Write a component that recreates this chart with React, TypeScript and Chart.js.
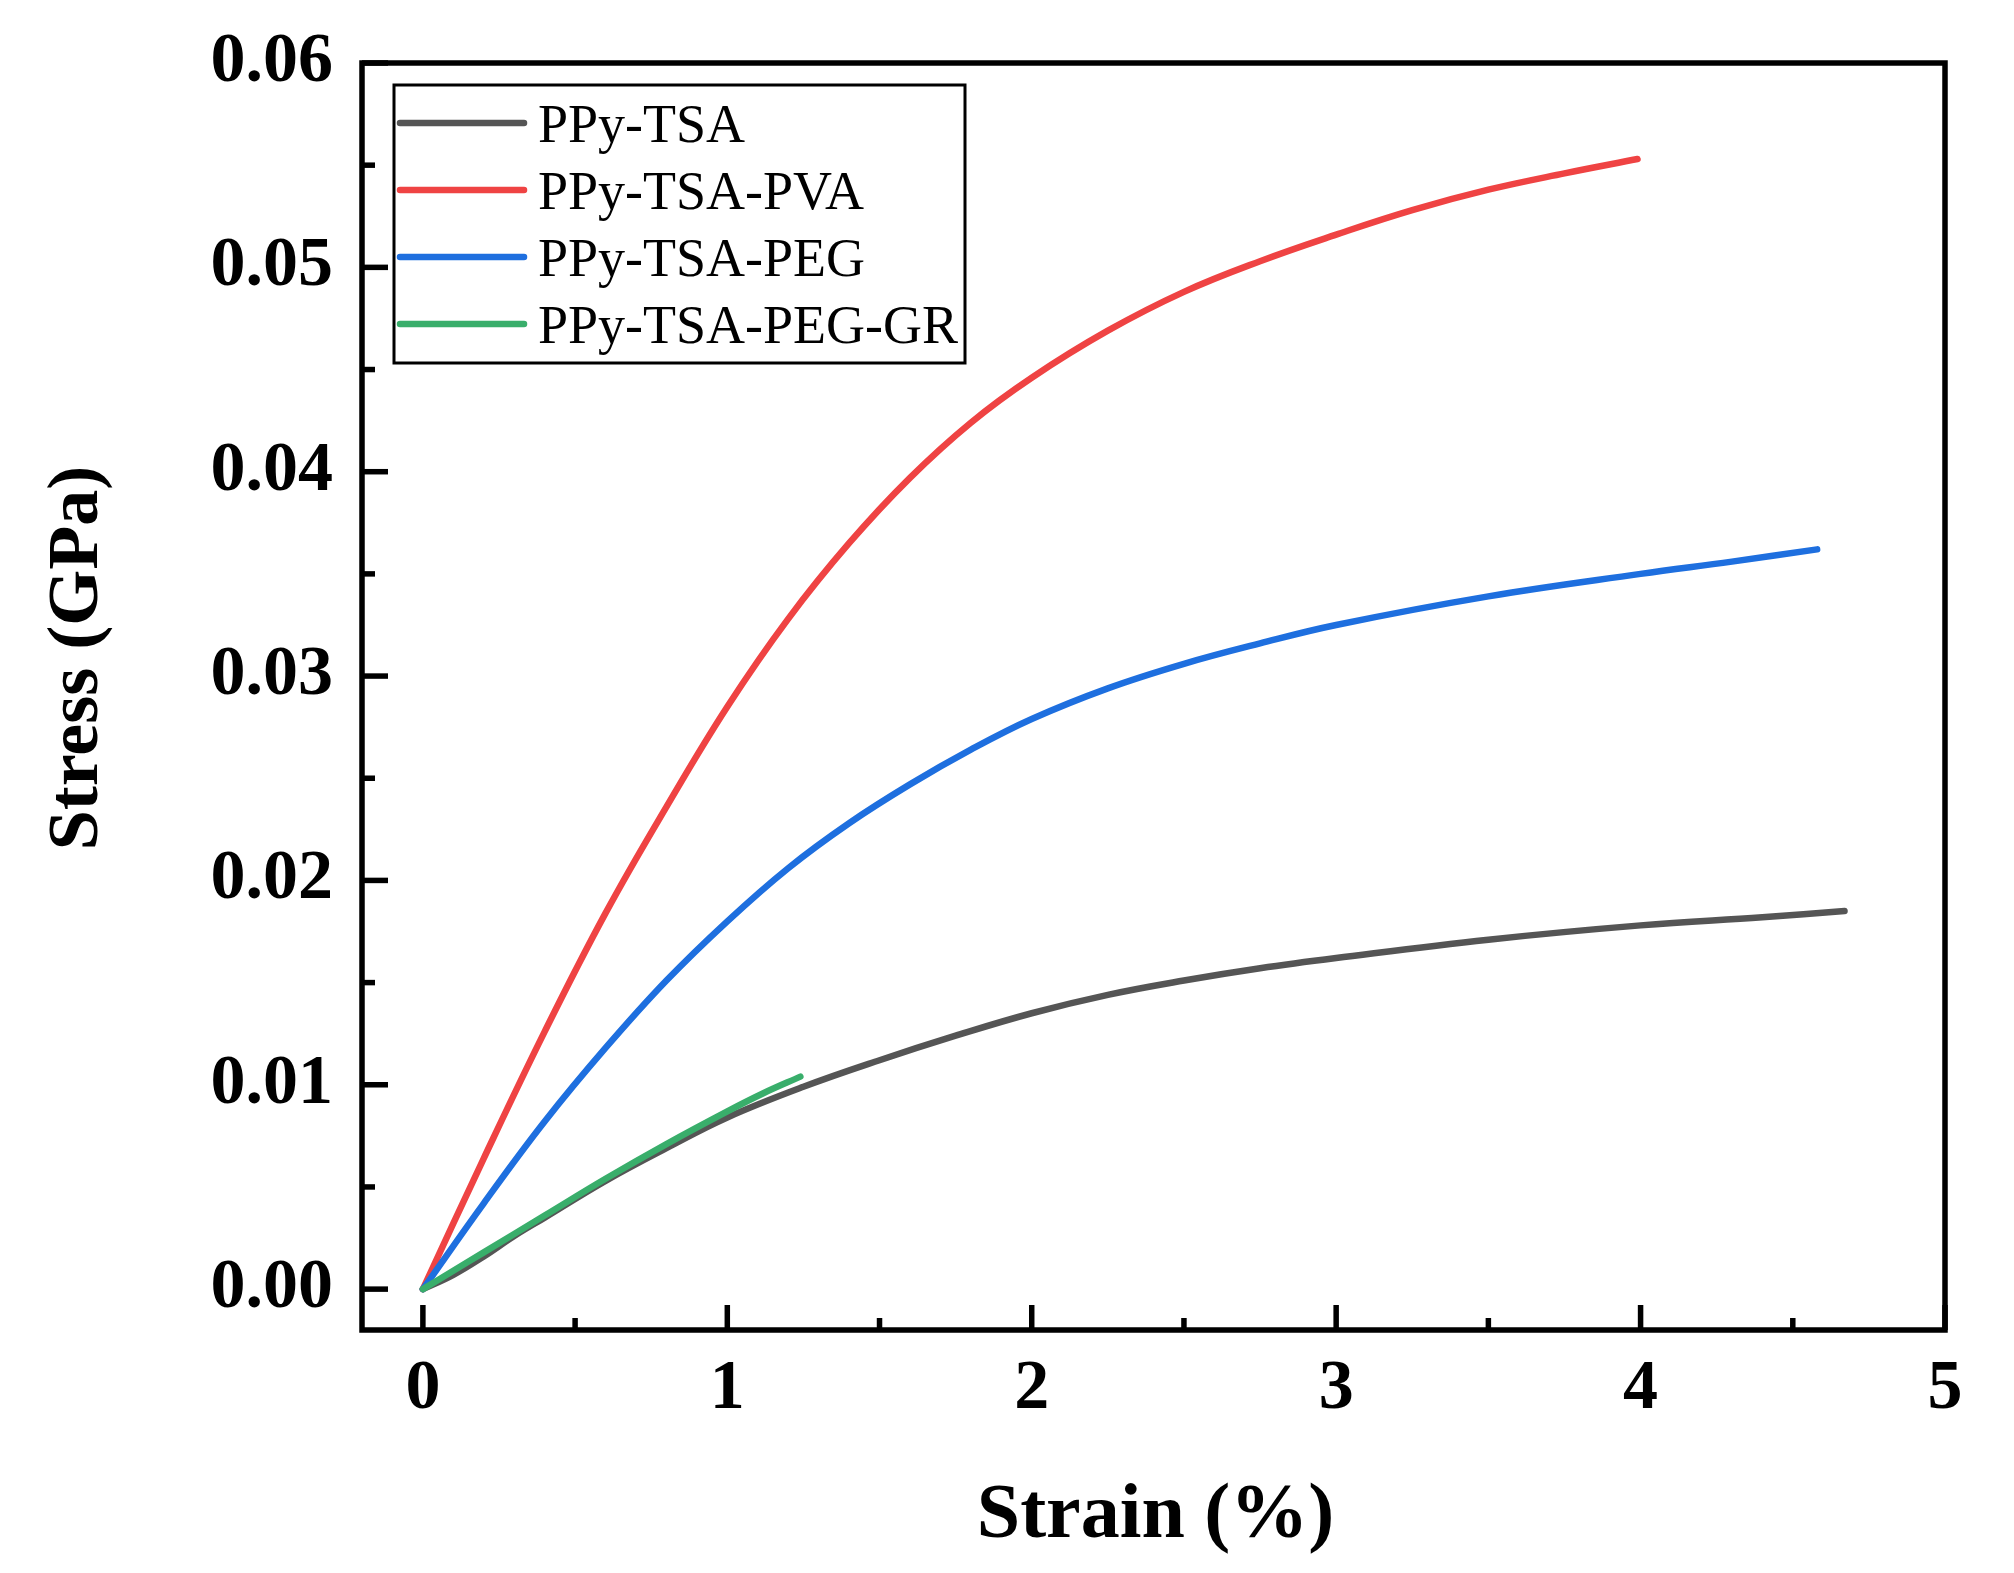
import { useEffect, useRef } from 'react'
import { Chart, registerables } from 'chart.js'
Chart.register(...registerables)

const seriesNames = ['PPy-TSA', 'PPy-TSA-PVA', 'PPy-TSA-PEG', 'PPy-TSA-PEG-GR']
const seriesColors = ['#555555', '#EF4343', '#1E6FDF', '#39AE6B']

// strain (%) / stress (GPa)
const tsaStrain = [0, 0.1, 0.2, 0.3, 0.4, 0.6, 0.8, 1.0, 1.25, 1.5, 1.75, 2.0, 2.25, 2.5, 2.75, 3.0, 3.5, 4.0, 4.4, 4.67]
const tsaStress = [0, 0.0007, 0.0016, 0.0026, 0.0035, 0.0053, 0.0069, 0.0084, 0.0099, 0.0112, 0.0124, 0.0135, 0.0144, 0.0151, 0.0157, 0.0162, 0.0171, 0.0178, 0.0182, 0.0185]

const pvaStrain = [0, 0.2, 0.4, 0.6, 0.8, 1.0, 1.2, 1.4, 1.6, 1.8, 2.0, 2.25, 2.5, 2.75, 3.0, 3.25, 3.5, 3.75, 3.99]
const pvaStress = [0, 0.0064, 0.0126, 0.0184, 0.0236, 0.0285, 0.0328, 0.0365, 0.0397, 0.0424, 0.0446, 0.0469, 0.0488, 0.0503, 0.0516, 0.0528, 0.0538, 0.0546, 0.0553]

const pegStrain = [0, 0.2, 0.4, 0.6, 0.8, 1.0, 1.2, 1.4, 1.6, 1.8, 2.0, 2.25, 2.5, 2.75, 3.0, 3.5, 4.0, 4.3, 4.58]
const pegStress = [0, 0.0042, 0.0082, 0.0118, 0.0151, 0.018, 0.0206, 0.0228, 0.0247, 0.0264, 0.0279, 0.0294, 0.0306, 0.0316, 0.0325, 0.0339, 0.035, 0.0356, 0.0362]

const grStrain = [0, 0.1, 0.2, 0.4, 0.6, 0.8, 1.0, 1.12, 1.24]
const grStress = [0, 0.0009, 0.0018, 0.0036, 0.0054, 0.0071, 0.0087, 0.0096, 0.0104]

const xTicks = [0, 1, 2, 3, 4, 5]
const xMinorTicks = [0.5, 1.5, 2.5, 3.5, 4.5]
const yTicks = [0, 0.01, 0.02, 0.03, 0.04, 0.05, 0.06]
const yMinorTicks = [0.005, 0.015, 0.025, 0.035, 0.045, 0.055]

const xTitle = 'Strain (%)'
const yTitle = 'Stress (GPa)'

const FONT = '"Liberation Serif", "Times New Roman", serif'

const pts = (xs: number[], ys: number[]) => xs.map((x, i) => ({ x, y: ys[i] }))

// frame, inward ticks, legend and axis titles the way Origin draws them
const framePlugin = {
  id: 'originFrame',
  afterDatasetsDraw(chart: any) {
    const { ctx, chartArea: a, scales } = chart
    const sx = scales.x, sy = scales.y
    ctx.save()
    ctx.strokeStyle = '#000'
    ctx.lineWidth = 5.5
    ctx.lineJoin = 'miter'
    ctx.strokeRect(a.left, a.top, a.right - a.left, a.bottom - a.top)

    const seg = (x1: number, y1: number, x2: number, y2: number) => {
      ctx.beginPath(); ctx.moveTo(x1, y1); ctx.lineTo(x2, y2); ctx.stroke()
    }
    xTicks.forEach(v => { const p = sx.getPixelForValue(v); seg(p, a.bottom, p, a.bottom - 25) })
    xMinorTicks.forEach(v => { const p = sx.getPixelForValue(v); seg(p, a.bottom, p, a.bottom - 12) })
    yTicks.forEach(v => { const p = sy.getPixelForValue(v); seg(a.left, p, a.left + 26, p) })
    yMinorTicks.forEach(v => { const p = sy.getPixelForValue(v); seg(a.left, p, a.left + 13, p) })

    // legend
    const lx = a.left + 32, ly = a.top + 22
    ctx.lineWidth = 3
    ctx.strokeRect(lx, ly, 571, 278)
    ctx.font = `54px ${FONT}`
    ctx.textBaseline = 'alphabetic'
    ctx.textAlign = 'left'
    chart.data.datasets.forEach((ds: any, i: number) => {
      const ry = ly + 38 + i * 67
      ctx.strokeStyle = ds.borderColor
      ctx.lineWidth = 6.5
      ctx.lineCap = 'round'
      seg(lx + 6, ry, lx + 130, ry)
      ctx.fillStyle = '#000'
      ctx.fillText(ds.label, lx + 144, ry + 19)
    })

    // axis titles
    ctx.fillStyle = '#000'
    ctx.font = `bold 78px ${FONT}`
    ctx.textAlign = 'center'
    ctx.fillText(xTitle, (a.left + a.right) / 2 + 2, 1537)
    ctx.save()
    ctx.translate(97, 658)
    ctx.rotate(-Math.PI / 2)
    ctx.font = `bold 72px ${FONT}`
    ctx.fillText(yTitle, 0, 0)
    ctx.restore()
    ctx.restore()
  },
}

export default function App() {
  const ref = useRef<HTMLCanvasElement>(null)

  useEffect(() => {
    document.body.style.margin = '0'
    if (!ref.current) return
    const series = [
      { s: tsaStrain, t: tsaStress, order: 4 },
      { s: pvaStrain, t: pvaStress, order: 3 },
      { s: pegStrain, t: pegStress, order: 2 },
      { s: grStrain, t: grStress, order: 1 },
    ]
    const chart = new Chart(ref.current, {
      type: 'line',
      data: {
        datasets: series.map((d, i) => ({
          label: seriesNames[i],
          data: pts(d.s, d.t),
          borderColor: seriesColors[i],
          backgroundColor: seriesColors[i],
          borderWidth: 6.5,
          pointRadius: 0,
          borderCapStyle: 'round' as const,
          borderJoinStyle: 'round' as const,
          tension: 0.4,
          fill: false,
          order: d.order,
        })),
      },
      options: {
        responsive: false,
        animation: false,
        devicePixelRatio: 1,
        layout: { padding: { top: 63, right: 69, left: 0, bottom: 0 } },
        plugins: { legend: { display: false }, tooltip: { enabled: false } },
        font: { family: FONT },
        scales: {
          x: {
            type: 'linear', min: -0.2, max: 5,
            grid: { display: false, drawTicks: false },
            border: { display: false },
            afterBuildTicks: (s: any) => { s.ticks = xTicks.map(value => ({ value })) },
            afterFit: (s: any) => { s.height = 243 },
            ticks: {
              autoSkip: false, maxRotation: 0, padding: 18, color: '#000',
              font: { family: FONT, size: 70, weight: 'bold' },
              callback: (v: any) => String(v),
            },
          },
          y: {
            type: 'linear', min: -0.002, max: 0.06,
            grid: { display: false, drawTicks: false },
            border: { display: false },
            afterBuildTicks: (s: any) => { s.ticks = yTicks.map(value => ({ value })) },
            afterFit: (s: any) => { s.width = 362 },
            ticks: {
              autoSkip: false, padding: 29, color: '#000',
              font: { family: FONT, size: 70, weight: 'bold', lineHeight: 0.8 },
              callback: (v: any) => Number(v).toFixed(2),
            },
          },
        },
      },
      plugins: [framePlugin],
    })
    return () => chart.destroy()
  }, [])

  return (
    <div style={{ width: 2014, height: 1573, background: '#fff' }}>
      <canvas ref={ref} width={2014} height={1573} style={{ display: 'block' }} />
    </div>
  )
}
